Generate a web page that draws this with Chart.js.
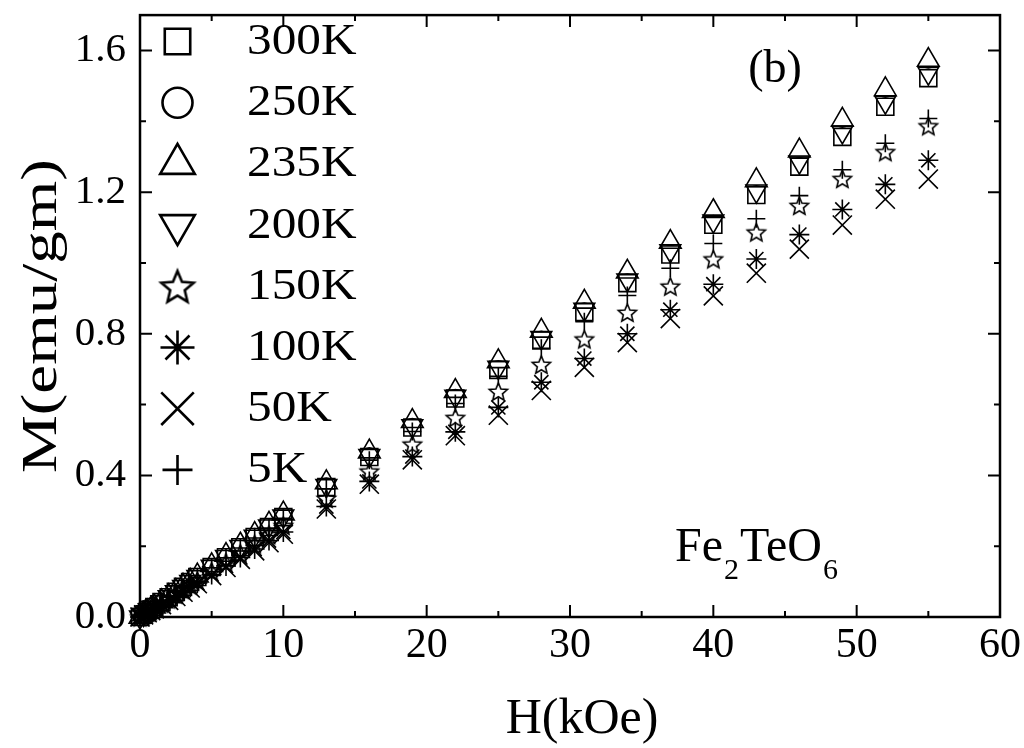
<!DOCTYPE html>
<html>
<head>
<meta charset="utf-8">
<script src="https://cdn.jsdelivr.net/npm/chart.js@4.4.1/dist/chart.umd.min.js"></script>
<style>
  html, body { margin: 0; padding: 0; background: #fff; }
  #grafico { display: block; }
</style>
</head>
<body>
<canvas id="grafico" width="1024" height="748"></canvas>
<script>
// campo aplicado (kOe)
const campoH = [0, 0.25, 0.5, 0.75, 1, 1.5, 2, 2.5, 3, 3.5, 4, 5, 6, 7, 8, 9, 10,
  13, 16, 19, 22, 25, 28, 31, 34, 37, 40, 43, 46, 49, 52, 55];

// magnetizacao (emu/gm) para cada temperatura
const m300 = [0, 0.007, 0.014, 0.021, 0.028, 0.042, 0.056, 0.071, 0.085, 0.099, 0.113, 0.141, 0.169, 0.197, 0.226, 0.254, 0.282,
  0.367, 0.452, 0.535, 0.617, 0.698, 0.781, 0.861, 0.943, 1.024, 1.108, 1.192, 1.272, 1.356, 1.441, 1.522];
const m250 = [0, 0.007, 0.014, 0.021, 0.028, 0.043, 0.057, 0.071, 0.085, 0.099, 0.114, 0.142, 0.170, 0.198, 0.227, 0.255, 0.283,
  0.370, 0.455, 0.538, 0.620, 0.701, 0.784, 0.864, 0.946, 1.027, 1.111, 1.195, 1.275, 1.359, 1.444, 1.525];
const m235 = [0, 0.007, 0.015, 0.022, 0.029, 0.044, 0.058, 0.073, 0.088, 0.102, 0.117, 0.146, 0.175, 0.204, 0.234, 0.263, 0.292,
  0.380, 0.467, 0.553, 0.638, 0.722, 0.808, 0.890, 0.975, 1.059, 1.146, 1.233, 1.317, 1.404, 1.490, 1.573];
const m200 = [0, 0.007, 0.015, 0.021, 0.028, 0.043, 0.057, 0.071, 0.086, 0.100, 0.114, 0.143, 0.171, 0.199, 0.228, 0.257, 0.285,
  0.371, 0.456, 0.540, 0.623, 0.705, 0.789, 0.869, 0.952, 1.034, 1.118, 1.203, 1.285, 1.370, 1.454, 1.536];
const m150 = [0, 0.006, 0.013, 0.019, 0.026, 0.039, 0.051, 0.064, 0.077, 0.090, 0.103, 0.129, 0.154, 0.180, 0.206, 0.232, 0.258,
  0.335, 0.412, 0.488, 0.563, 0.637, 0.713, 0.785, 0.860, 0.934, 1.011, 1.087, 1.162, 1.238, 1.314, 1.387];
const m100 = [0, 0.006, 0.012, 0.018, 0.024, 0.036, 0.048, 0.060, 0.072, 0.084, 0.096, 0.120, 0.144, 0.168, 0.192, 0.216, 0.240,
  0.312, 0.383, 0.453, 0.523, 0.592, 0.663, 0.730, 0.800, 0.868, 0.940, 1.011, 1.080, 1.151, 1.222, 1.290];
const m50 = [0, 0.006, 0.012, 0.018, 0.023, 0.035, 0.047, 0.058, 0.070, 0.082, 0.094, 0.117, 0.140, 0.163, 0.187, 0.210, 0.234,
  0.305, 0.375, 0.444, 0.512, 0.570, 0.640, 0.705, 0.775, 0.843, 0.907, 0.971, 1.039, 1.107, 1.180, 1.237];
const m5 = [0, 0.007, 0.014, 0.021, 0.028, 0.042, 0.056, 0.070, 0.084, 0.097, 0.112, 0.139, 0.167, 0.195, 0.223, 0.251, 0.279,
  0.362, 0.443, 0.524, 0.603, 0.680, 0.759, 0.834, 0.908, 0.985, 1.055, 1.125, 1.190, 1.263, 1.338, 1.408];

const rotulos = ['300K', '250K', '235K', '200K', '150K', '100K', '50K', '5K'];
const series = [m300, m250, m235, m200, m150, m100, m50, m5];

const ticksX = [0, 10, 20, 30, 40, 50, 60];
const ticksY = [0, 0.4, 0.8, 1.2, 1.6];

const fonte = '"Liberation Serif", "Times New Roman", serif';

// estrela de cinco pontas (o 'star' do Chart.js e um asterisco)
function criarEstrela(raio, espessura) {
  const tam = Math.ceil(raio * 2 + espessura * 2 + 2);
  const c = document.createElement('canvas');
  c.width = tam;
  c.height = tam;
  const g = c.getContext('2d');
  g.translate(tam / 2, tam / 2 + raio * 0.1);
  g.beginPath();
  for (let i = 0; i < 10; i++) {
    const r = i % 2 === 0 ? raio : raio * 0.45;
    const a = -Math.PI / 2 + i * Math.PI / 5;
    if (i === 0) g.moveTo(r * Math.cos(a), r * Math.sin(a));
    else g.lineTo(r * Math.cos(a), r * Math.sin(a));
  }
  g.closePath();
  g.lineWidth = espessura;
  g.lineJoin = 'miter';
  g.strokeStyle = '#000';
  g.stroke();
  return c;
}

const estrelaDados = criarEstrela(9.5, 1.6);
const estrelaLegenda = criarEstrela(17, 2.6);

const estilos = [
  { estilo: 'rect', raio: 12, rot: 0, fundo: '#fff', ordem: 8 },
  { estilo: 'circle', raio: 8, rot: 0, fundo: 'rgba(0,0,0,0)', ordem: 9 },
  { estilo: 'triangle', raio: 12.5, rot: 0, fundo: 'rgba(0,0,0,0)', ordem: 0 },
  { estilo: 'triangle', raio: 12, rot: 180, fundo: 'rgba(0,0,0,0)', ordem: 0 },
  { estilo: estrelaDados, raio: 9, rot: 0, fundo: 'rgba(0,0,0,0)', ordem: 0 },
  { estilo: 'star', raio: 10, rot: 0, fundo: 'rgba(0,0,0,0)', ordem: 0 },
  { estilo: 'crossRot', raio: 13.5, rot: 0, fundo: 'rgba(0,0,0,0)', ordem: 0 },
  { estilo: 'cross', raio: 9, rot: 0, fundo: 'rgba(0,0,0,0)', ordem: 0 }
];

const estilosLegenda = [
  { estilo: 'rect', raio: 18, rot: 0 },
  { estilo: 'circle', raio: 15, rot: 0 },
  { estilo: 'triangle', raio: 20, rot: 0 },
  { estilo: 'triangle', raio: 20, rot: 180 },
  { estilo: estrelaLegenda, raio: 17, rot: 0 },
  { estilo: 'star', raio: 17, rot: 0 },
  { estilo: 'crossRot', raio: 23, rot: 0 },
  { estilo: 'cross', raio: 15, rot: 0 }
];

const datasets = series.map((vals, i) => ({
  label: rotulos[i],
  data: campoH.map((h, j) => ({ x: h, y: vals[j] })),
  pointStyle: estilos[i].estilo,
  pointRadius: estilos[i].raio,
  pointRotation: estilos[i].rot,
  pointBorderColor: '#000',
  pointBackgroundColor: estilos[i].fundo,
  pointBorderWidth: 1.6,
  showLine: false,
  clip: false,
  order: estilos[i].ordem
}));

// moldura com ticks para dentro nos quatro lados
const molduraPlugin = {
  id: 'moldura',
  beforeDatasetsDraw(chart) {
    const { ctx, chartArea: a, scales: { x, y } } = chart;
    ctx.save();
    ctx.strokeStyle = '#000';
    ctx.lineWidth = 2.5;
    ctx.strokeRect(a.left, a.top, a.right - a.left, a.bottom - a.top);
    ctx.lineWidth = 2;
    ctx.beginPath();
    for (let v = 0; v <= 60; v += 5) {
      const px = x.getPixelForValue(v);
      const len = v % 10 === 0 ? 12 : 6;
      ctx.moveTo(px, a.bottom); ctx.lineTo(px, a.bottom - len);
      ctx.moveTo(px, a.top); ctx.lineTo(px, a.top + len);
    }
    for (let i = 0; i <= 8; i++) {
      const py = y.getPixelForValue(i * 0.2);
      const len = i % 2 === 0 ? 12 : 6;
      ctx.moveTo(a.left, py); ctx.lineTo(a.left + len, py);
      ctx.moveTo(a.right, py); ctx.lineTo(a.right - len, py);
    }
    ctx.stroke();
    ctx.restore();
  }
};

// texto esticado na direcao da escrita (a figura original e mais larga que a fonte)
function textoEsticado(ctx, t, x, y, fator, rot) {
  ctx.save();
  ctx.translate(x, y);
  if (rot) ctx.rotate(rot);
  ctx.scale(fator, 1);
  ctx.fillText(t, 0, 0);
  ctx.restore();
}

// legenda dentro do grafico, titulos dos eixos e textos
const legendaPlugin = {
  id: 'legenda',
  afterDraw(chart) {
    const ctx = chart.ctx;
    const a = chart.chartArea;
    ctx.save();
    ctx.strokeStyle = '#000';
    ctx.lineWidth = 2.6;
    ctx.textBaseline = 'middle';
    ctx.font = '44px ' + fonte;
    rotulos.forEach((r, i) => {
      const yy = 41.5 + i * 61.2;
      const est = estilosLegenda[i];
      ctx.fillStyle = 'rgba(0,0,0,0)';
      Chart.helpers.drawPoint(ctx, { pointStyle: est.estilo, radius: est.raio, rotation: est.rot, borderWidth: 2.6 }, 177.5, yy);
      ctx.fillStyle = '#000';
      ctx.textAlign = 'left';
      textoEsticado(ctx, r, 247, yy + 1, 1.12, 0);
    });

    ctx.textBaseline = 'alphabetic';
    ctx.fillStyle = '#000';
    ctx.font = '46px ' + fonte;
    ctx.textAlign = 'center';
    ctx.fillText('(b)', 775, 82);

    // titulos dos eixos
    ctx.font = '50px ' + fonte;
    ctx.fillText('H(kOe)', 582, 733);
    textoEsticado(ctx, 'M(emu/gm)', 56, (a.top + a.bottom) / 2, 1.3, -Math.PI / 2);

    ctx.textAlign = 'left';
    let xx = 675;
    const partes = [['Fe', 48, 561], ['2', 30, 579], ['TeO', 48, 561], ['6', 30, 579]];
    partes.forEach(([t, tam, base]) => {
      ctx.font = tam + 'px ' + fonte;
      ctx.fillText(t, xx, base);
      xx += ctx.measureText(t).width + 1;
    });
    ctx.restore();
  }
};

new Chart(document.getElementById('grafico'), {
  type: 'scatter',
  data: { datasets },
  options: {
    responsive: false,
    devicePixelRatio: 1,
    animation: false,
    events: [],
    layout: { padding: { top: 12, right: 24, left: 0, bottom: 0 } },
    plugins: { legend: { display: false }, tooltip: { enabled: false } },
    scales: {
      x: {
        type: 'linear',
        min: 0,
        max: 60,
        afterFit: s => { s.height = 131; s.paddingLeft = 0; s.paddingRight = 0; },
        afterBuildTicks: s => { s.ticks = ticksX.map(v => ({ value: v })); },
        grid: { display: false, drawTicks: false },
        border: { display: false },
        ticks: { color: '#000', font: { family: fonte, size: 42 }, padding: 4, maxRotation: 0 },
        title: { display: false }
      },
      y: {
        type: 'linear',
        min: 0,
        max: 1.7,
        afterFit: s => { s.width = 140; s.paddingTop = 0; s.paddingBottom = 0; },
        afterBuildTicks: s => { s.ticks = ticksY.map(v => ({ value: v })); },
        grid: { display: false, drawTicks: false },
        border: { display: false },
        ticks: { color: '#000', font: { family: fonte, size: 41 }, padding: 14, callback: v => v.toFixed(1) },
        title: { display: false }
      }
    }
  },
  plugins: [molduraPlugin, legendaPlugin]
});
</script>
</body>
</html>
